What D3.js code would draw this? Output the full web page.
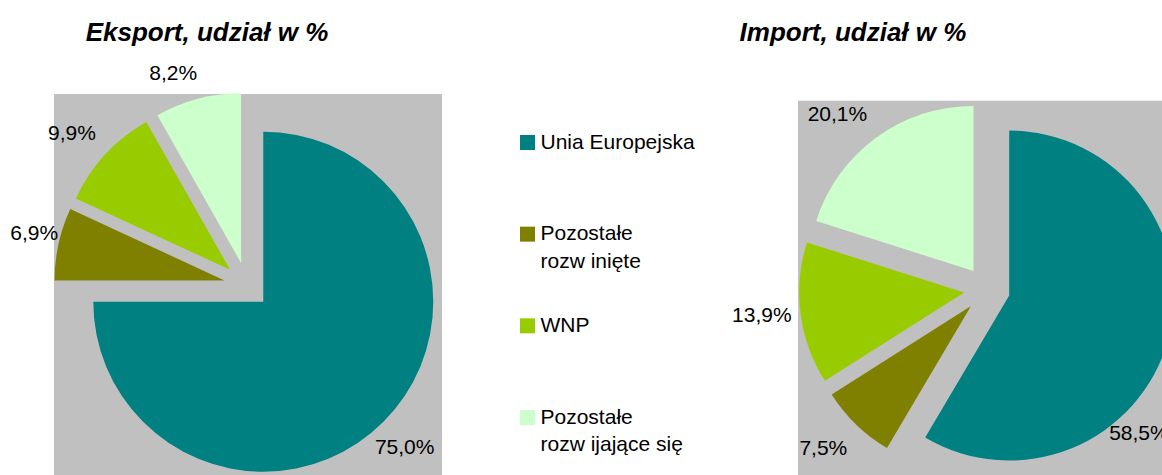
<html>
<head>
<meta charset="utf-8">
<script src="https://d3js.org/d3.v7.min.js"></script>
<style>
  body { margin: 0; background: #fff; }
  svg { display: block; font-family: "Liberation Sans", Arial, sans-serif; }
  .title { font-size: 26px; font-weight: bold; font-style: italic; }
  .pct { font-size: 21px; }
  .legend text { font-size: 21px; }
</style>
</head>
<body>
<div id="chart"></div>
<script>
// data
const categories = ["Unia Europejska", "Pozostałe rozw inięte", "WNP", "Pozostałe rozw ijające się"];
const legendLines = [["Unia Europejska"], ["Pozostałe", "rozw inięte"], ["WNP"], ["Pozostałe", "rozw ijające się"]];
const exportShares = [75.0, 6.9, 9.9, 8.2];
const importShares = [58.5, 7.5, 13.9, 20.1];
const colors = ["#008080", "#808000", "#99CC00", "#CCFFCC"];

const W = 1162, H = 475;
const svg = d3.select("#chart").append("svg").attr("width", W).attr("height", H);

const pl = d3.formatLocale({ decimal: ",", thousands: " ", grouping: [3], currency: ["", " zł"] });
const fmt = v => pl.format(".1f")(v) + "%";

const pie = d3.pie().sort(null).value(d => d);

// layout of the two pies
const exportCfg = {
  title: "Eksport, udział w %", titleX: 207,
  plot: { x: 54, y: 94, w: 388, h: 390 },
  cx: 247, cy: 285.4, r: 170, explode: 23, labelR: 200,
  nudge: [[0, 4], [5, -5], [-11, -2], [-17, 3]]
};
const importCfg = {
  title: "Import, udział w %", titleX: 853,
  plot: { x: 798, y: 100.7, w: 380, h: 390 },
  cx: 987, cy: 289.5, r: 165, explode: 23, labelR: 205,
  nudge: [[-68, 83], [-5, -6], [1, -4], [-15, 8]]
};

function drawPie(cfg, values) {
  const g = svg.append("g");
  g.append("rect")
    .attr("x", cfg.plot.x).attr("y", cfg.plot.y)
    .attr("width", cfg.plot.w).attr("height", cfg.plot.h)
    .attr("fill", "#C0C0C0");

  g.append("text").attr("class", "title")
    .attr("x", cfg.titleX).attr("y", 41)
    .attr("text-anchor", "middle")
    .text(cfg.title);

  const arc = d3.arc().innerRadius(0).outerRadius(cfg.r);
  const labelArc = d3.arc().innerRadius(cfg.labelR).outerRadius(cfg.labelR);

  const slices = g.selectAll("g.slice")
    .data(pie(values))
    .join("g")
    .attr("class", "slice")
    .attr("transform", d => {
      const mid = (d.startAngle + d.endAngle) / 2;
      return `translate(${cfg.cx + cfg.explode * Math.sin(mid)},${cfg.cy - cfg.explode * Math.cos(mid)})`;
    });

  slices.append("path")
    .attr("d", arc)
    .attr("fill", (d, i) => colors[i]);

  slices.append("text")
    .attr("class", "pct")
    .attr("transform", (d, i) => {
      const [x, y] = labelArc.centroid(d);
      return `translate(${x + cfg.nudge[i][0]},${y + cfg.nudge[i][1]})`;
    })
    .attr("text-anchor", "middle")
    .attr("dy", "0.35em")
    .text(d => fmt(d.data));
}

drawPie(exportCfg, exportShares);
drawPie(importCfg, importShares);

// legend
const legend = svg.append("g").attr("class", "legend");
const ly = d3.scaleLinear().domain([0, 3]).range([135, 410]);
const item = legend.selectAll("g")
  .data(categories)
  .join("g")
  .attr("transform", (d, i) => `translate(520,${ly(i)})`);
item.append("rect")
  .attr("width", 15).attr("height", 15)
  .attr("fill", (d, i) => colors[i]);
item.append("text")
  .attr("x", 20.5)
  .selectAll("tspan")
  .data((d, i) => legendLines[i])
  .join("tspan")
  .attr("x", 20.5)
  .attr("y", (d, j) => 13.5 + j * 27.5)
  .text(d => d);
</script>
</body>
</html>
